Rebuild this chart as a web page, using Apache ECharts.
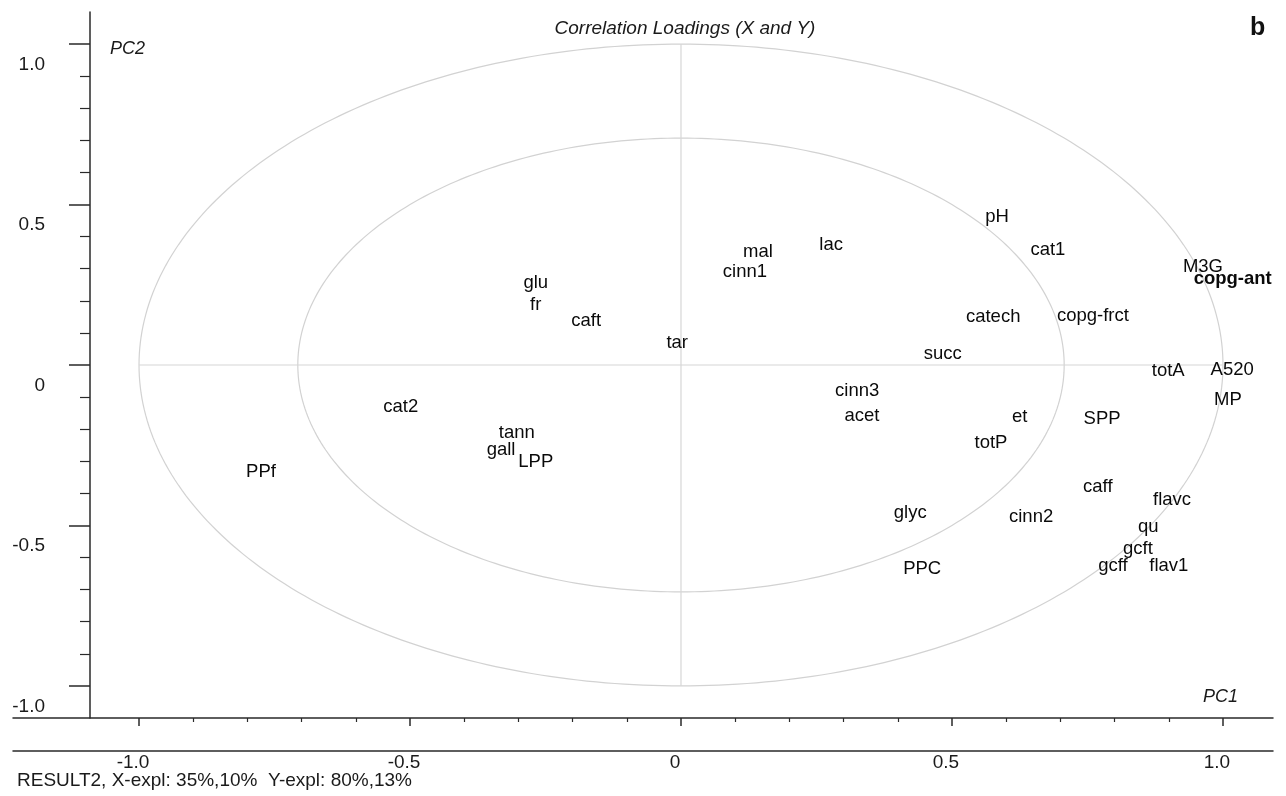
<!DOCTYPE html>
<html><head><meta charset="utf-8">
<script src="https://cdn.jsdelivr.net/npm/echarts@6/dist/echarts.min.js"></script>
<style>html,body{margin:0;padding:0;background:#fff}#c{width:1286px;height:796px}</style>
</head><body><div id="c"></div>
<script>
// Variable names (labels drawn at their correlation loadings)
const variables = ['pH','cat1','M3G','copg-ant','mal','lac','cinn1','glu','fr','caft','tar',
  'catech','copg-frct','succ','totA','A520','MP','cinn3','acet','cat2','et','SPP','totP',
  'tann','gall','LPP','PPf','caff','flavc','glyc','cinn2','qu','gcft','gcff','flav1','PPC'];
// PC1 loadings
const pc1 = [0.583,0.677,0.963,1.018,0.142,0.277,0.118,-0.268,-0.268,-0.175,-0.007,
  0.576,0.760,0.483,0.899,1.017,1.009,0.325,0.334,-0.517,0.625,0.777,0.572,
  -0.303,-0.332,-0.268,-0.775,0.769,0.906,0.423,0.646,0.862,0.843,0.797,0.900,0.445];
// PC2 loadings
const pc2 = [0.461,0.358,0.305,0.268,0.352,0.374,0.290,0.255,0.187,0.137,0.069,
  0.150,0.153,0.034,-0.019,-0.016,-0.109,-0.081,-0.159,-0.131,-0.162,-0.168,-0.243,
  -0.212,-0.265,-0.302,-0.333,-0.380,-0.421,-0.461,-0.474,-0.505,-0.573,-0.626,-0.626,-0.636];
const boldVariables = ['copg-ant'];
// explained-variance circles (100% and 50%)
const circleRadii = [1.0, 0.707];
// ticks
const majorTicks = [-1.0, -0.5, 0, 0.5, 1.0];
const minorTicks = [-0.9,-0.8,-0.7,-0.6,-0.4,-0.3,-0.2,-0.1,0.1,0.2,0.3,0.4,0.6,0.7,0.8,0.9];
const tickLabels = ['-1.0','-0.5','0','0.5','1.0'];
const footerText = 'RESULT2, X-expl: 35%,10%  Y-expl: 80%,13%';
const titleText = 'Correlation Loadings (X and Y)';

const FONT = '"Liberation Sans", Arial, Helvetica, sans-serif';
const AX = '#2a2a2a';
const fmtTick = v => { const i = majorTicks.findIndex(t => Math.abs(t - v) < 1e-9); return i >= 0 ? tickLabels[i] : ''; };

const chart = echarts.init(document.getElementById('c'), null, {renderer: 'canvas'});
const xMin = -1.2325, xMax = 1.0923;
const baseX = {type: 'value', min: xMin, max: xMax, position: 'bottom', splitLine: {show: false}};
const baseY = {type: 'value', min: -1.1, max: 1.1, position: 'left', offset: -77, splitLine: {show: false}};

chart.setOption({
  backgroundColor: '#fff',
  animation: false,
  grid: {left: 13, right: 13, top: 12, bottom: 78, containLabel: false},
  title: {text: titleText, left: 680, top: 14, textAlign: 'center',
    textStyle: {fontFamily: FONT, fontSize: 19, fontStyle: 'italic', fontWeight: 'normal', color: '#1a1a1a'}},
  xAxis: [
    Object.assign({}, baseX, {
      axisLine: {show: true, onZero: false, lineStyle: {color: AX, width: 1.5}},
      axisTick: {show: true, length: 8, customValues: majorTicks, lineStyle: {color: AX, width: 1.5}},
      axisLabel: {show: false}
    }),
    Object.assign({}, baseX, {
      axisLine: {show: false, onZero: false},
      axisTick: {show: true, length: 4, customValues: minorTicks, lineStyle: {color: AX, width: 1.2}},
      axisLabel: {show: false}
    }),
    Object.assign({}, baseX, {
      offset: 33,
      axisLine: {show: true, onZero: false, lineStyle: {color: AX, width: 1.5}},
      axisTick: {show: false},
      axisLabel: {show: true, customValues: majorTicks, formatter: fmtTick, margin: 2,
        fontFamily: FONT, fontSize: 19, color: '#1a1a1a', padding: [0, 12, 0, 0]}
    })
  ],
  yAxis: [
    Object.assign({}, baseY, {
      axisLine: {show: true, onZero: false, lineStyle: {color: AX, width: 1.5}},
      axisTick: {show: true, length: 21, customValues: majorTicks, lineStyle: {color: AX, width: 1.5}},
      axisLabel: {show: true, customValues: majorTicks, formatter: fmtTick, margin: 45,
        fontFamily: FONT, fontSize: 19, color: '#1a1a1a', verticalAlign: 'top', padding: [11, 0, 0, 0]}
    }),
    Object.assign({}, baseY, {
      axisLine: {show: false, onZero: false},
      axisTick: {show: true, length: 10, customValues: minorTicks, lineStyle: {color: AX, width: 1.2}},
      axisLabel: {show: false}
    })
  ],
  graphic: [
    {type: 'text', left: 17, top: 771, style: {text: footerText, font: '19px ' + FONT, fill: '#1a1a1a'}},
    {type: 'text', left: 1250, top: 16, style: {text: 'b', font: 'bold 25px ' + FONT, fill: '#111'}},
    {type: 'text', left: 110, top: 40, style: {text: 'PC2', font: 'italic 18px ' + FONT, fill: '#1a1a1a'}},
    {type: 'text', left: 1203, top: 688, style: {text: 'PC1', font: 'italic 18px ' + FONT, fill: '#1a1a1a'}}
  ],
  series: [
    {
      type: 'custom', xAxisIndex: 0, yAxisIndex: 0, silent: true, z: 1,
      data: circleRadii.map(r => [r]),
      renderItem: function (params, api) {
        const r = api.value(0);
        const pts = [];
        for (let d = 0; d <= 360; d += 1) {
          const a = d * Math.PI / 180;
          pts.push(api.coord([r * Math.cos(a), r * Math.sin(a)]));
        }
        return {type: 'polyline', shape: {points: pts}, style: {stroke: '#d2d2d2', lineWidth: 1.2, fill: null}};
      }
    },
    {
      type: 'custom', xAxisIndex: 0, yAxisIndex: 0, silent: true, z: 1,
      data: [[-circleRadii[0], 0, circleRadii[0], 0], [0, -circleRadii[0], 0, circleRadii[0]]],
      renderItem: function (params, api) {
        const p1 = api.coord([api.value(0), api.value(1)]);
        const p2 = api.coord([api.value(2), api.value(3)]);
        return {type: 'line', shape: {x1: p1[0], y1: p1[1], x2: p2[0], y2: p2[1]},
          style: {stroke: '#d6d6d6', lineWidth: 1.2}};
      }
    },
    {
      type: 'scatter', xAxisIndex: 0, yAxisIndex: 0, z: 3,
      symbolSize: 0, itemStyle: {color: '#000'},
      data: variables.map((n, i) => ({
        name: n, value: [pc1[i], pc2[i]],
        label: {fontWeight: boldVariables.includes(n) ? 'bold' : 'normal'}
      })),
      label: {show: true, position: 'inside', formatter: '{b}', fontFamily: FONT, fontSize: 18.5,
        color: '#0a0a0a', textBorderWidth: 0, opacity: 1},
      labelLayout: {hideOverlap: false}
    }
  ]
});
</script></body></html>
